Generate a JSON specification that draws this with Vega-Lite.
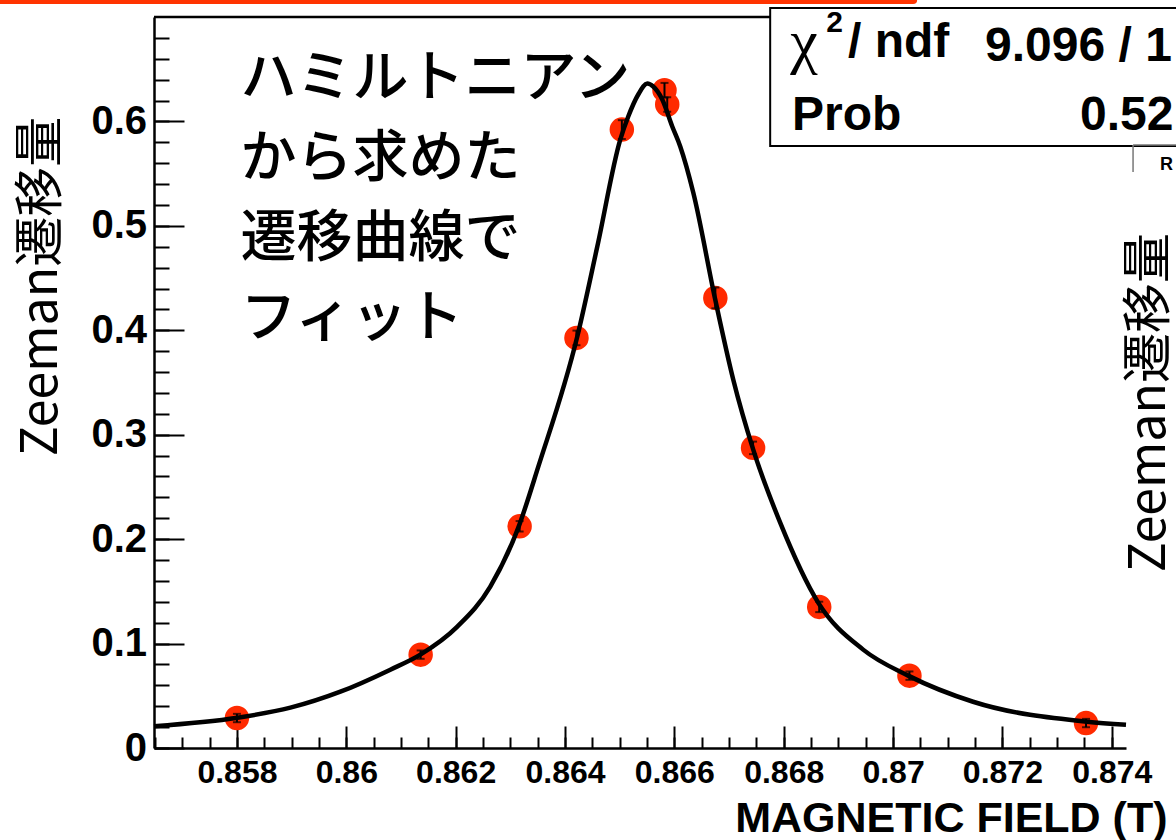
{
  "$schema": "https://vega.github.io/schema/vega-lite/v6.json",
  "width": 972,
  "height": 731,
  "autosize": {"type": "none"},
  "padding": {"left": 154, "top": 17, "right": 50, "bottom": 92},
  "background": "white",
  "config": {"view": {"stroke": null}, "axis": {"grid": false}},
  "datasets": {
    "one": [{}],
    "points": [
      {"field": 0.85800, "shift": 0.0287, "err": 0.004},
      {"field": 0.86136, "shift": 0.0894, "err": 0.004},
      {"field": 0.86317, "shift": 0.2123, "err": 0.005},
      {"field": 0.86421, "shift": 0.3927, "err": 0.007},
      {"field": 0.86504, "shift": 0.5922, "err": 0.009},
      {"field": 0.86582, "shift": 0.6299, "err": 0.007},
      {"field": 0.86587, "shift": 0.6162, "err": 0.007},
      {"field": 0.86675, "shift": 0.4310, "err": 0.010},
      {"field": 0.86744, "shift": 0.2874, "err": 0.006},
      {"field": 0.86865, "shift": 0.1351, "err": 0.005},
      {"field": 0.87030, "shift": 0.0693, "err": 0.004},
      {"field": 0.87353, "shift": 0.0239, "err": 0.004}
    ],
    "curve": [
      {"field": 0.856483, "shift": 0.0209},
      {"field": 0.858009, "shift": 0.0290},
      {"field": 0.858978, "shift": 0.0386},
      {"field": 0.859892, "shift": 0.0539},
      {"field": 0.860806, "shift": 0.0750},
      {"field": 0.861355, "shift": 0.0894},
      {"field": 0.862031, "shift": 0.1162},
      {"field": 0.862634, "shift": 0.1545},
      {"field": 0.863146, "shift": 0.2110},
      {"field": 0.863512, "shift": 0.2694},
      {"field": 0.864225, "shift": 0.3940},
      {"field": 0.864591, "shift": 0.4802},
      {"field": 0.865011, "shift": 0.5826},
      {"field": 0.865157, "shift": 0.6047},
      {"field": 0.865340, "shift": 0.6258},
      {"field": 0.865505, "shift": 0.6363},
      {"field": 0.865614, "shift": 0.6334},
      {"field": 0.865779, "shift": 0.6210},
      {"field": 0.865962, "shift": 0.5951},
      {"field": 0.866108, "shift": 0.5760},
      {"field": 0.866346, "shift": 0.5319},
      {"field": 0.866748, "shift": 0.4294},
      {"field": 0.867077, "shift": 0.3528},
      {"field": 0.867443, "shift": 0.2857},
      {"field": 0.867936, "shift": 0.2158},
      {"field": 0.868631, "shift": 0.1392},
      {"field": 0.869453, "shift": 0.0942},
      {"field": 0.870276, "shift": 0.0693},
      {"field": 0.871464, "shift": 0.0443},
      {"field": 0.873548, "shift": 0.0252},
      {"field": 0.874261, "shift": 0.0223}
    ]
  },
  "resolve": {"axis": {"x": "independent", "y": "independent"}},
  "layer": [
    {
      "data": {"name": "points"},
      "mark": {"type": "circle", "size": 600, "color": "#ff2a00", "opacity": 1},
      "encoding": {
        "x": {"field": "field", "type": "quantitative",
              "scale": {"domain": [0.856483, 0.874261], "nice": false, "zero": false},
              "axis": {"orient": "bottom", "values": [0.8565, 0.857, 0.8575, 0.858, 0.8585, 0.859, 0.8595, 0.86, 0.8605, 0.861, 0.8615, 0.862, 0.8625, 0.863, 0.8635, 0.864, 0.8645, 0.865, 0.8655, 0.866, 0.8665, 0.867, 0.8675, 0.868, 0.8685, 0.869, 0.8695, 0.87, 0.8705, 0.871, 0.8715, 0.872, 0.8725, 0.873, 0.8735, 0.874],
                       "labels": false, "domain": false, "ticks": true, "tickSize": -11, "tickWidth": 2, "tickColor": "black", "title": null, "grid": false}},
        "y": {"field": "shift", "type": "quantitative",
              "scale": {"domain": [0, 0.7], "nice": false, "zero": false},
              "axis": {"orient": "left", "values": [0, 0.02, 0.04, 0.06, 0.08, 0.1, 0.12, 0.14, 0.16, 0.18, 0.2, 0.22, 0.24, 0.26, 0.28, 0.3, 0.32, 0.34, 0.36, 0.38, 0.4, 0.42, 0.44, 0.46, 0.48, 0.5, 0.52, 0.54, 0.56, 0.58, 0.6, 0.62, 0.64, 0.66, 0.68],
                       "labels": false, "domain": false, "ticks": true, "tickSize": -15, "tickWidth": 2, "tickColor": "black", "title": null, "grid": false}}
      }
    },
    {
      "data": {"name": "points"},
      "mark": {"type": "errorbar", "ticks": {"size": 8, "thickness": 2, "color": "black"}, "rule": {"strokeWidth": 2, "color": "black"}},
      "encoding": {
        "x": {"field": "field", "type": "quantitative", "scale": {"domain": [0.856483, 0.874261], "nice": false, "zero": false}, "axis": null},
        "y": {"field": "shift", "type": "quantitative", "scale": {"domain": [0, 0.7], "nice": false, "zero": false}, "axis": null},
        "yError": {"field": "err"}
      }
    },
    {
      "data": {"name": "curve"},
      "mark": {"type": "line", "color": "black", "strokeWidth": 4.5, "strokeJoin": "round", "interpolate": "monotone"},
      "encoding": {
        "x": {"field": "field", "type": "quantitative",
              "scale": {"domain": [0.856483, 0.874261], "nice": false, "zero": false},
              "axis": {"orient": "bottom", "values": [0.858, 0.86, 0.862, 0.864, 0.866, 0.868, 0.87, 0.872, 0.874], "format": "~g",
                       "domain": true, "domainColor": "black", "domainWidth": 2.5,
                       "ticks": true, "tickSize": -22, "tickWidth": 2, "tickColor": "black",
                       "labelFont": "Liberation Sans", "labelFontWeight": "bold", "labelFontSize": 32, "labelColor": "black",
                       "labelPadding": 31, "labelFlush": false, "labelOverlap": false, "labelBaseline": "top",
                       "title": "MAGNETIC FIELD (T)", "titleFont": "Liberation Sans", "titleFontWeight": "bold", "titleFontSize": 43, "titleColor": "black",
                       "titleAlign": "right", "titleBaseline": "alphabetic", "titleX": 1013, "titleY": 83}},
        "y": {"field": "shift", "type": "quantitative",
              "scale": {"domain": [0, 0.7], "nice": false, "zero": false},
              "axis": {"orient": "left", "values": [0, 0.1, 0.2, 0.3, 0.4, 0.5, 0.6], "format": "~g",
                       "domain": true, "domainColor": "black", "domainWidth": 2.5,
                       "ticks": true, "tickSize": -30, "tickWidth": 2, "tickColor": "black",
                       "labelFont": "Liberation Sans", "labelFontWeight": "bold", "labelFontSize": 40, "labelColor": "black",
                       "labelPadding": 37.5, "labelFlush": false, "labelOverlap": false,
                       "title": "Zeeman遷移量", "titleFont": "Noto Sans CJK JP", "titleFontWeight": "normal", "titleFontSize": 50, "titleColor": "black",
                       "titleAngle": 270, "titleAlign": "center", "titleBaseline": "middle", "titleX": -113, "titleY": 269}}
      }
    },
    {
      "data": {"name": "one"},
      "mark": {"type": "rule", "color": "black", "strokeWidth": 2.5},
      "encoding": {
        "y": {"datum": 0.7, "type": "quantitative", "scale": {"domain": [0, 0.7], "nice": false, "zero": false}, "axis": null}
      }
    },
    {
      "data": {"name": "one"},
      "mark": {"type": "rule", "color": "#ff3300", "strokeWidth": 8, "strokeCap": "round"},
      "encoding": {
        "x": {"datum": 0.853493, "type": "quantitative", "scale": {"domain": [0.856483, 0.874261], "nice": false, "zero": false}, "axis": null},
        "x2": {"datum": 0.870368},
        "y": {"datum": 0.7163, "type": "quantitative", "scale": {"domain": [0, 0.7], "nice": false, "zero": false}, "axis": null}
      }
    },
    {
      "data": {"name": "one"},
      "mark": {"type": "rect", "fill": "white", "stroke": "black", "strokeWidth": 2},
      "encoding": {
        "x": {"datum": 0.867753, "type": "quantitative", "scale": {"domain": [0.856483, 0.874261], "nice": false, "zero": false}, "axis": null},
        "x2": {"datum": 0.875615},
        "y": {"datum": 0.7086, "type": "quantitative", "scale": {"domain": [0, 0.7], "nice": false, "zero": false}, "axis": null},
        "y2": {"datum": 0.5764}
      }
    },
    {
      "data": {"name": "one"},
      "mark": {"type": "rule", "color": "#777777", "strokeWidth": 1.5},
      "encoding": {
        "x": {"datum": 0.874390, "type": "quantitative", "scale": {"domain": [0.856483, 0.874261], "nice": false, "zero": false}, "axis": null},
        "x2": {"datum": 0.875615},
        "y": {"datum": 0.5774, "type": "quantitative", "scale": {"domain": [0, 0.7], "nice": false, "zero": false}, "axis": null}
      }
    },
    {
      "data": {"name": "one"},
      "mark": {"type": "rule", "color": "#777777", "strokeWidth": 1.5},
      "encoding": {
        "x": {"datum": 0.874390, "type": "quantitative", "scale": {"domain": [0.856483, 0.874261], "nice": false, "zero": false}, "axis": null},
        "y": {"datum": 0.5774, "type": "quantitative", "scale": {"domain": [0, 0.7], "nice": false, "zero": false}, "axis": null},
        "y2": {"datum": 0.5515}
      }
    },
    {
      "data": {"name": "one"},
      "mark": {"type": "text", "text": "χ", "font": "Liberation Serif", "fontSize": 62, "align": "left", "baseline": "alphabetic", "color": "black"},
      "encoding": {
        "x": {"datum": 0.868120, "type": "quantitative", "scale": {"domain": [0.856483, 0.874261], "nice": false, "zero": false}, "axis": null},
        "y": {"datum": 0.6570, "type": "quantitative", "scale": {"domain": [0, 0.7], "nice": false, "zero": false}, "axis": null}
      }
    },
    {
      "data": {"name": "one"},
      "mark": {"type": "text", "text": "2", "font": "Liberation Sans", "fontWeight": "bold", "fontSize": 30, "align": "left", "baseline": "alphabetic", "color": "black"},
      "encoding": {
        "x": {"datum": 0.868777, "type": "quantitative", "scale": {"domain": [0.856483, 0.874261], "nice": false, "zero": false}, "axis": null},
        "y": {"datum": 0.6856, "type": "quantitative", "scale": {"domain": [0, 0.7], "nice": false, "zero": false}, "axis": null}
      }
    },
    {
      "data": {"name": "one"},
      "mark": {"type": "text", "text": "/ ndf", "font": "Liberation Sans", "fontWeight": "bold", "fontSize": 48, "align": "left", "baseline": "alphabetic", "color": "black"},
      "encoding": {
        "x": {"datum": 0.869177, "type": "quantitative", "scale": {"domain": [0.856483, 0.874261], "nice": false, "zero": false}, "axis": null},
        "y": {"datum": 0.6617, "type": "quantitative", "scale": {"domain": [0, 0.7], "nice": false, "zero": false}, "axis": null}
      }
    },
    {
      "data": {"name": "one"},
      "mark": {"type": "text", "text": "9.096 / 1", "font": "Liberation Sans", "fontWeight": "bold", "fontSize": 48, "align": "left", "baseline": "alphabetic", "color": "black"},
      "encoding": {
        "x": {"datum": 0.871683, "type": "quantitative", "scale": {"domain": [0.856483, 0.874261], "nice": false, "zero": false}, "axis": null},
        "y": {"datum": 0.6579, "type": "quantitative", "scale": {"domain": [0, 0.7], "nice": false, "zero": false}, "axis": null}
      }
    },
    {
      "data": {"name": "one"},
      "mark": {"type": "text", "text": "Prob", "font": "Liberation Sans", "fontWeight": "bold", "fontSize": 48, "align": "left", "baseline": "alphabetic", "color": "black"},
      "encoding": {
        "x": {"datum": 0.868153, "type": "quantitative", "scale": {"domain": [0.856483, 0.874261], "nice": false, "zero": false}, "axis": null},
        "y": {"datum": 0.5917, "type": "quantitative", "scale": {"domain": [0, 0.7], "nice": false, "zero": false}, "axis": null}
      }
    },
    {
      "data": {"name": "one"},
      "mark": {"type": "text", "text": "0.52", "font": "Liberation Sans", "fontWeight": "bold", "fontSize": 48, "align": "left", "baseline": "alphabetic", "color": "black"},
      "encoding": {
        "x": {"datum": 0.873420, "type": "quantitative", "scale": {"domain": [0.856483, 0.874261], "nice": false, "zero": false}, "axis": null},
        "y": {"datum": 0.5917, "type": "quantitative", "scale": {"domain": [0, 0.7], "nice": false, "zero": false}, "axis": null}
      }
    },
    {
      "data": {"name": "one"},
      "mark": {"type": "text", "text": "R", "font": "Liberation Sans", "fontWeight": "bold", "fontSize": 18, "align": "left", "baseline": "alphabetic", "color": "black"},
      "encoding": {
        "x": {"datum": 0.874884, "type": "quantitative", "scale": {"domain": [0.856483, 0.874261], "nice": false, "zero": false}, "axis": null},
        "y": {"datum": 0.5534, "type": "quantitative", "scale": {"domain": [0, 0.7], "nice": false, "zero": false}, "axis": null}
      }
    },
    {
      "data": {"name": "one"},
      "mark": {"type": "text", "text": "Zeeman遷移量", "font": "Noto Sans CJK JP", "fontSize": 50, "angle": 270, "align": "center", "baseline": "middle", "color": "black"},
      "encoding": {
        "x": {"datum": 0.874701, "type": "quantitative", "scale": {"domain": [0.856483, 0.874261], "nice": false, "zero": false}, "axis": null},
        "y": {"datum": 0.3307, "type": "quantitative", "scale": {"domain": [0, 0.7], "nice": false, "zero": false}, "axis": null}
      }
    },
    {
      "data": {"name": "one"},
      "mark": {"type": "text", "text": ["ハミルトニアン", "から求めた", "遷移曲線で", "フィット"], "font": "Noto Sans CJK JP", "fontWeight": 500, "fontSize": 56, "lineHeight": 80, "align": "left", "baseline": "alphabetic", "color": "black"},
      "encoding": {
        "x": {"datum": 0.858064, "type": "quantitative", "scale": {"domain": [0.856483, 0.874261], "nice": false, "zero": false}, "axis": null},
        "y": {"datum": 0.6243, "type": "quantitative", "scale": {"domain": [0, 0.7], "nice": false, "zero": false}, "axis": null}
      }
    }
  ]
}
